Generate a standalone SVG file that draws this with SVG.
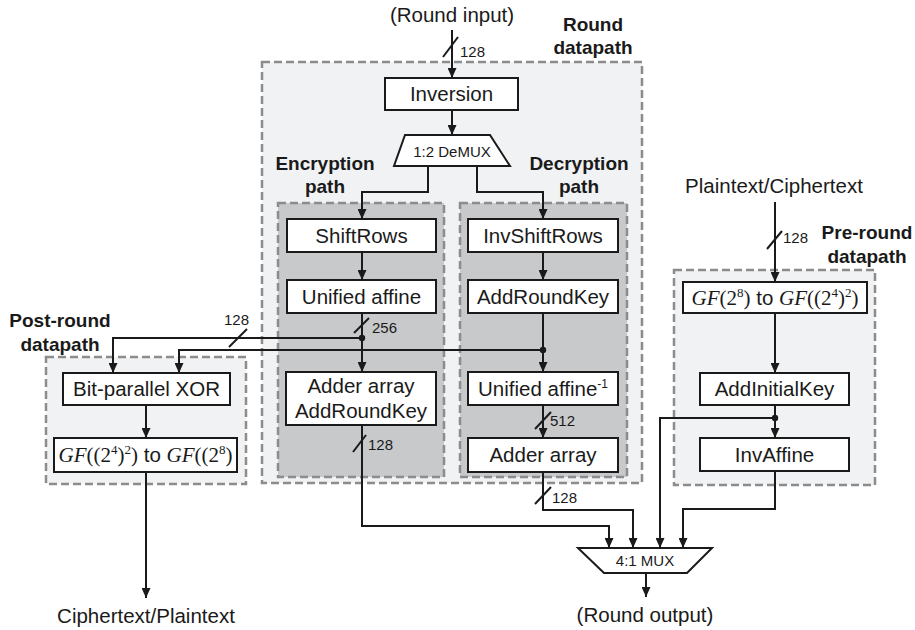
<svg xmlns="http://www.w3.org/2000/svg" width="915" height="630" viewBox="0 0 915 630">
<defs>
<marker id="ah" markerUnits="userSpaceOnUse" markerWidth="10" markerHeight="9" refX="10" refY="4.5" orient="auto"><path d="M0,0 L10,4.5 L0,9 z" fill="#1a1a1a"/></marker>
</defs>
<style>
.grp{fill:#f1f2f4;stroke:#8c8c8c;stroke-width:2.5;stroke-dasharray:8 4}
.inner{fill:#c8c9cb;stroke:#8c8c8c;stroke-width:2.5;stroke-dasharray:8 4}
.box{fill:#fff;stroke:#1a1a1a;stroke-width:2}
.t{font-family:"Liberation Sans",Arial,sans-serif;font-size:20.5px;fill:#1a1a1a;text-anchor:middle}
.s{font-family:"Liberation Sans",Arial,sans-serif;font-size:15px;fill:#1a1a1a}
.b{font-family:"Liberation Sans",Arial,sans-serif;font-size:19px;font-weight:bold;fill:#1a1a1a;text-anchor:middle}
.tm{font-family:"Liberation Serif","Times New Roman",serif}
.it{font-style:italic}
.w{fill:none;stroke:#1a1a1a;stroke-width:2}
.a{marker-end:url(#ah)}
.dot{fill:#1a1a1a}
</style>
<rect width="915" height="630" fill="#fff"/>

<g id="round-datapath">
<rect class="grp" x="262" y="62" width="380" height="421"/>
<text class="b" x="593" y="31">Round</text>
<text class="b" x="593" y="54">datapath</text>
</g>
<g id="encryption-path">
<rect class="inner" x="278" y="203" width="166" height="274"/>
<text class="b" x="325" y="170">Encryption</text>
<text class="b" x="325" y="193">path</text>
</g>
<g id="decryption-path">
<rect class="inner" x="460" y="203" width="167" height="274"/>
<text class="b" x="579" y="170">Decryption</text>
<text class="b" x="579" y="193">path</text>
</g>
<g id="post-round-datapath">
<rect class="grp" x="46" y="357" width="200" height="127"/>
<text class="b" x="60" y="327">Post-round</text>
<text class="b" x="60" y="351">datapath</text>
</g>
<g id="pre-round-datapath">
<rect class="grp" x="674" y="270" width="201" height="215"/>
<text class="b" x="867" y="239">Pre-round</text>
<text class="b" x="867" y="263">datapath</text>
</g>

<g id="round-input"><text class="t" x="452" y="22">(Round input)</text></g>
<g id="inversion"><rect class="box" x="385" y="78" width="133" height="32"/><text class="t" x="451.5" y="101">Inversion</text></g>
<g id="demux"><path class="box" d="M405,135 H490 L510,166 H394 Z"/><text class="s" x="452" y="157" text-anchor="middle">1:2 DeMUX</text></g>
<g id="shiftrows"><rect class="box" x="287" y="219" width="149" height="33"/><text class="t" x="361.5" y="243">ShiftRows</text></g>
<g id="unified-affine"><rect class="box" x="287" y="280" width="149" height="33"/><text class="t" x="361.5" y="304">Unified affine</text></g>
<g id="adder-addroundkey"><rect class="box" x="286" y="372" width="150" height="53"/><text class="t" x="361" y="393">Adder array</text><text class="t" x="361" y="418">AddRoundKey</text></g>
<g id="invshiftrows"><rect class="box" x="468" y="219" width="150" height="33"/><text class="t" x="543" y="243">InvShiftRows</text></g>
<g id="addroundkey"><rect class="box" x="468" y="280" width="150" height="33"/><text class="t" x="543" y="304">AddRoundKey</text></g>
<g id="unified-affine-inv"><rect class="box" x="468" y="372" width="150" height="33"/><text class="t" x="543" y="396">Unified affine<tspan font-size="12" dy="-8">-1</tspan></text></g>
<g id="adder-array"><rect class="box" x="468" y="438" width="150" height="34"/><text class="t" x="543" y="462">Adder array</text></g>
<g id="bit-parallel-xor"><rect class="box" x="63" y="373" width="167" height="32"/><text class="t" x="146.5" y="396">Bit-parallel XOR</text></g>
<g id="gf-to-gf8"><rect class="box" x="54" y="438" width="183" height="34"/><text class="t" x="145.5" y="462"><tspan class="tm it" font-size="21">GF</tspan><tspan class="tm" font-size="21">((2</tspan><tspan class="tm" font-size="13" dy="-8">4</tspan><tspan class="tm" font-size="21" dy="8">)</tspan><tspan class="tm" font-size="13" dy="-8">2</tspan><tspan class="tm" font-size="21" dy="8">)</tspan> to <tspan class="tm it" font-size="21">GF</tspan><tspan class="tm" font-size="21">((2</tspan><tspan class="tm" font-size="13" dy="-8">8</tspan><tspan class="tm" font-size="21" dy="8">)</tspan></text></g>
<g id="ciphertext-plaintext"><text class="t" x="146" y="623">Ciphertext/Plaintext</text></g>
<g id="plaintext-ciphertext"><text class="t" x="774" y="193">Plaintext/Ciphertext</text></g>
<g id="gf8-to-gf"><rect class="box" x="683" y="282" width="184" height="31"/><text class="t" x="775" y="305"><tspan class="tm it" font-size="21">GF</tspan><tspan class="tm" font-size="21">(2</tspan><tspan class="tm" font-size="13" dy="-8">8</tspan><tspan class="tm" font-size="21" dy="8">)</tspan> to <tspan class="tm it" font-size="21">GF</tspan><tspan class="tm" font-size="21">((2</tspan><tspan class="tm" font-size="13" dy="-8">4</tspan><tspan class="tm" font-size="21" dy="8">)</tspan><tspan class="tm" font-size="13" dy="-8">2</tspan><tspan class="tm" font-size="21" dy="8">)</tspan></text></g>
<g id="addinitialkey"><rect class="box" x="700" y="373" width="149" height="32"/><text class="t" x="774.5" y="396">AddInitialKey</text></g>
<g id="invaffine"><rect class="box" x="700" y="438" width="149" height="33"/><text class="t" x="774.5" y="462">InvAffine</text></g>
<g id="mux"><path class="box" d="M578,548 H712 L687,573 H604 Z"/><text class="s" x="645" y="566" text-anchor="middle" font-size="16">4:1 MUX</text></g>
<g id="round-output"><text class="t" x="645" y="622">(Round output)</text></g>

<g id="connectors">
<path class="w a" d="M452,30 V78"/>
<path class="w" d="M443,57 L458,37"/>
<text class="s" x="460" y="57">128</text>
<path class="w a" d="M452,110 V135"/>
<path class="w a" d="M428,166 V192 H362 V219"/>
<path class="w a" d="M477,166 V192 H543 V219"/>
<path class="w a" d="M362,252 V280"/>
<path class="w a" d="M362,313 V372"/>
<path class="w" d="M354,333 L369,318"/>
<text class="s" x="372" y="333">256</text>
<path class="w a" d="M362,338 H113 V373"/>
<circle class="dot" cx="362" cy="338" r="3.2"/>
<path class="w a" d="M543,350 H179 V373"/>
<path class="w" d="M229,347 L247,329"/>
<text class="s" x="224" y="325">128</text>
<path class="w a" d="M543,252 V280"/>
<path class="w a" d="M543,313 V372"/>
<circle class="dot" cx="543" cy="350" r="3.2"/>
<path class="w a" d="M543,405 V438"/>
<path class="w" d="M535,429 L551,412"/>
<text class="s" x="550" y="426">512</text>
<path class="w a" d="M543,472 V510 H633 V548"/>
<path class="w" d="M535,504 L551,487"/>
<text class="s" x="552" y="503">128</text>
<path class="w a" d="M362,425 V526 H609 V548"/>
<path class="w" d="M353,452 L366,435"/>
<text class="s" x="368" y="450">128</text>
<path class="w a" d="M775,202 V282"/>
<path class="w" d="M767,249 L782,231"/>
<text class="s" x="783" y="243">128</text>
<path class="w a" d="M775,313 V373"/>
<path class="w a" d="M775,405 V438"/>
<circle class="dot" cx="775" cy="418" r="3.2"/>
<path class="w a" d="M775,418 H660 V548"/>
<path class="w a" d="M775,471 V509 H683 V548"/>
<path class="w a" d="M146,405 V438"/>
<path class="w a" d="M146,472 V598"/>
<path class="w a" d="M646,573 V597"/>
</g>
</svg>
